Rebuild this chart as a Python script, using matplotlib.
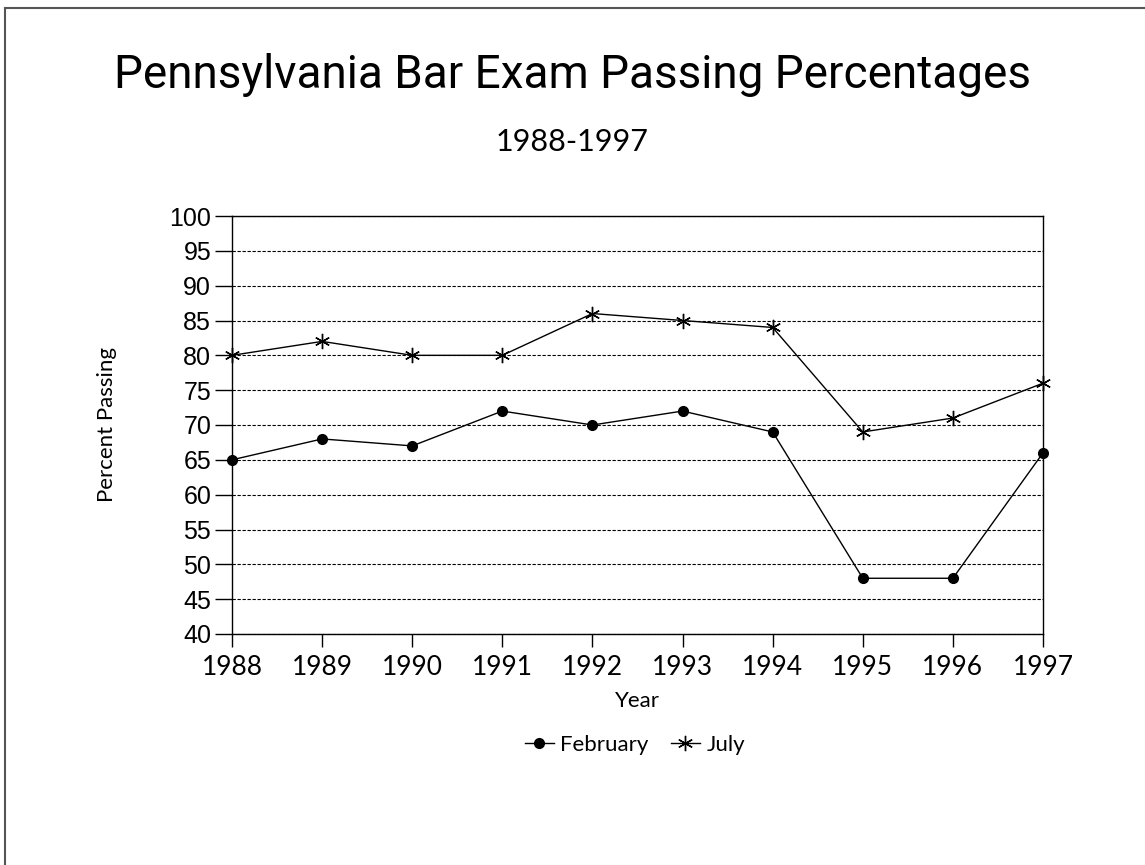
import matplotlib
matplotlib.use('Agg')
import matplotlib.pyplot as plt
from matplotlib.patches import Rectangle
from matplotlib.lines import Line2D

years = [1988, 1989, 1990, 1991, 1992, 1993, 1994, 1995, 1996, 1997]
february = [65, 68, 67, 72, 70, 72, 69, 48, 48, 66]
july = [80, 82, 80, 80, 86, 85, 84, 69, 71, 76]
y_ticks = list(range(40, 101, 5))

THIN = 'Lato'
THIN_W = 'normal'

fig = plt.figure(figsize=(11.45, 8.65), dpi=100)
fig.patches.append(Rectangle((5 / 1145, -0.1), 1.2, 1 - 8 / 865 + 0.1,
                             transform=fig.transFigure, fill=False,
                             edgecolor='#555555', lw=1.5))

ax = fig.add_axes([232 / 1145, 1 - 634 / 865, (1043 - 232) / 1145, (634 - 216) / 865])

ax.plot(years, february, color='black', lw=1, marker='o', ms=7, label='February',
        clip_on=False, zorder=3)
ax.plot(years, july, color='black', lw=1, marker=(6, 2, 0), ms=11, mew=1,
        label='July', clip_on=False, zorder=3)

ax.set_xlim(years[0], years[-1])
ax.set_ylim(40, 100)
ax.set_xticks(years)
ax.set_xticklabels([str(y) for y in years], family=THIN, fontweight=THIN_W, fontsize=19)
ax.set_yticks(y_ticks)
ax.set_yticklabels([str(t) for t in y_ticks], family='Liberation Sans', fontsize=18)
ax.tick_params(axis='x', direction='out', length=9, width=1, pad=6, colors='black')
ax.tick_params(axis='y', direction='out', length=12, width=1, pad=3, colors='black')
ax.grid(axis='y', color='black', ls=(0, (3, 1.5)), lw=0.8)
for s in ax.spines.values():
    s.set_color('black')
    s.set_linewidth(1)

ax.set_xlabel('Year', family=THIN, fontweight=THIN_W, fontsize=16, labelpad=8, color='black')
ax.set_ylabel('Percent Passing', family=THIN, fontweight=THIN_W, fontsize=16, labelpad=38,
              color='black')

fig.text(572 / 1145, 1 - 75 / 865, 'Pennsylvania Bar Exam Passing Percentages',
         ha='center', va='center', family='Roboto', fontsize=33, color='black')
fig.text(572 / 1145, 1 - 142 / 865, '1988-1997', ha='center', va='center',
         family=THIN, fontweight=THIN_W, fontsize=22, color='black')

handles = [Line2D([], [], color='black', lw=1, marker='o', ms=7),
           Line2D([], [], color='black', lw=1, marker=(6, 2, 0), ms=11)]
fig.legend(handles, ['February', 'July'], loc='center', bbox_to_anchor=(635 / 1145, 1 - 745 / 865),
           ncol=2, frameon=False, handlelength=1.3, handletextpad=0.3, columnspacing=1.0,
           prop={'family': THIN, 'weight': THIN_W, 'size': 16})

fig.savefig('out.png', dpi=100, facecolor='white')
